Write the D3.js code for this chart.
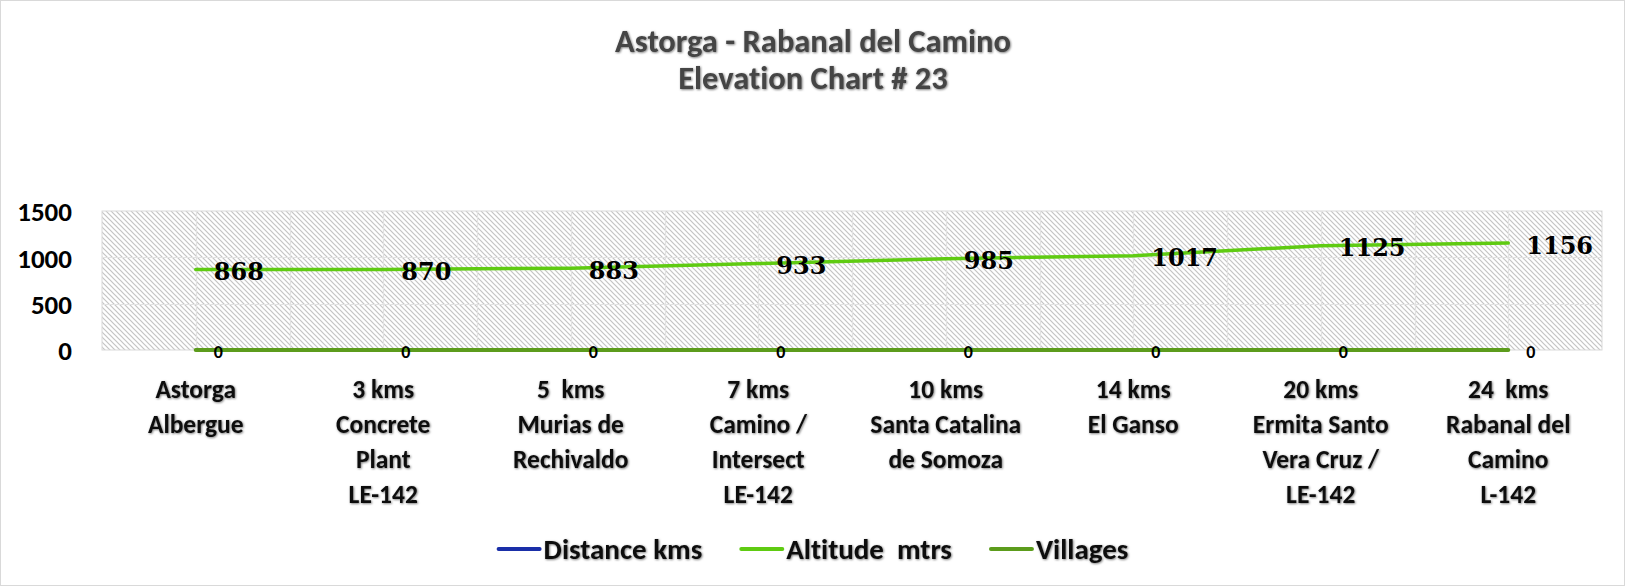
<!DOCTYPE html>
<html>
<head>
<meta charset="utf-8">
<script src="https://cdn.jsdelivr.net/npm/d3@7"></script>
<style>
  body { margin: 0; background: #fff; }
  svg text { white-space: pre; font-variant-ligatures: none; }
</style>
</head>
<body>
<div class="chart"></div>
<script>
const width = 1627;
const height = 587;

// chart values
const stops = ['Astorga Albergue', '3 kms Concrete Plant', '5 kms Murias', '7 kms Camino',
  '10 kms Santa Catalina', '14 kms El Ganso', '20 kms Ermita Santo', '24 kms Rabanal'];
const stopLabels = [
  ['Astorga', 'Albergue'],
  ['3 kms', 'Concrete', 'Plant', 'LE-142'],
  ['5  kms', 'Murias de', 'Rechivaldo'],
  ['7 kms', 'Camino /', 'Intersect', 'LE-142'],
  ['10 kms', 'Santa Catalina', 'de Somoza'],
  ['14 kms', 'El Ganso'],
  ['20 kms', 'Ermita Santo', 'Vera Cruz /', 'LE-142'],
  ['24  kms', 'Rabanal del', 'Camino', 'L-142']
];
const altitude = [868, 870, 883, 933, 985, 1017, 1125, 1156];
const villages = [0, 0, 0, 0, 0, 0, 0, 0];
const distance = [0, 0, 0, 0, 0, 0, 0, 0];
const yTicks = [0, 500, 1000, 1500];
const titleLines = ['Astorga - Rabanal del Camino', 'Elevation Chart # 23'];
const legendItems = [
  {name: 'Distance kms', color: '#1a2fa8'},
  {name: 'Altitude  mtrs', color: '#5fcb12'},
  {name: 'Villages', color: '#5c9c1c'}
];

const sans = 'Carlito, Lato, sans-serif';
const serif = '"DejaVu Serif", serif';

const svg = d3
    .select('div.chart')
    .append('svg')
    .attr('width', width)
    .attr('height', height);

const defs = svg.append('defs');

const hatch = defs.append('pattern')
    .attr('id', 'hatch')
    .attr('patternUnits', 'userSpaceOnUse')
    .attr('width', 5)
    .attr('height', 5);
hatch.append('rect').attr('width', 5).attr('height', 5).attr('fill', '#fff');
hatch.append('path')
    .attr('d', 'M-1,-1L6,6M-1,4L1,6M4,-1L6,1')
    .attr('stroke', '#c4c4c4')
    .attr('stroke-width', 1.2);

const shadow = defs.append('filter')
    .attr('id', 'shadow')
    .attr('x', '-10%').attr('y', '-20%')
    .attr('width', '120%').attr('height', '140%');
shadow.append('feDropShadow')
    .attr('dx', 0.8).attr('dy', 0.8)
    .attr('stdDeviation', 0.9)
    .attr('flood-color', '#000')
    .attr('flood-opacity', 0.55);

// outer frame
svg.append('rect')
    .attr('x', 0.5).attr('y', 0.5)
    .attr('width', width - 3).attr('height', height - 2)
    .attr('fill', '#fff')
    .attr('stroke', '#d9d9d9');

// title
svg.append('g')
    .selectAll('text')
    .data(titleLines)
    .enter()
    .append('text')
    .attr('x', 813)
    .attr('y', function(d, i) {
      return 52 + i * 37;
    })
    .attr('text-anchor', 'middle')
    .attr('font-family', sans)
    .attr('font-weight', 'bold')
    .attr('font-size', '32.5px')
    .attr('fill', '#444')
    .attr('filter', 'url(#shadow)')
    .text(function(d) {
      return d;
    });

const x = d3.scaleBand()
    .domain(stops)
    .range([102, 1602])
    .padding(0);

const y = d3.scaleLinear()
    .domain([0, 1500])
    .range([350, 211]);

const cx = function(i) {
  return x(stops[i]) + x.bandwidth() / 2;
};

// plot area
svg.append('rect')
    .attr('x', 102)
    .attr('y', y(1500))
    .attr('width', 1500)
    .attr('height', y(0) - y(1500))
    .attr('fill', 'url(#hatch)')
    .attr('stroke', '#d9d9d9');

// gridlines
const grid = svg.append('g').attr('stroke', '#e2e2e2').attr('stroke-width', 1.2);
grid.selectAll('line.h')
    .data(yTicks.slice(1, -1))
    .enter()
    .append('line')
    .attr('x1', 102).attr('x2', 1602)
    .attr('y1', function(d) {
      return Math.round(y(d)) + 0.5;
    })
    .attr('y2', function(d) {
      return Math.round(y(d)) + 0.5;
    });

const vLines = [];
stops.forEach(function(s, i) {
  if (i > 0) vLines.push(x(s));
  vLines.push(cx(i));
});
grid.selectAll('line.v')
    .data(vLines)
    .enter()
    .append('line')
    .attr('y1', y(1500)).attr('y2', y(0))
    .attr('x1', function(d) {
      return Math.round(d) + 0.5;
    })
    .attr('x2', function(d) {
      return Math.round(d) + 0.5;
    });

// y axis
const yAxis = svg.append('g')
    .attr('transform', 'translate(102,0)')
    .call(d3.axisLeft(y).tickValues(yTicks).tickFormat(d3.format('d'))
        .tickSize(0).tickPadding(30));
yAxis.select('.domain').remove();
yAxis.selectAll('text')
    .attr('font-family', sans)
    .attr('font-weight', 'bold')
    .attr('font-size', '27px')
    .attr('fill', '#000')
    .attr('dy', '0.36em');

// x axis labels
const xAxis = svg.append('g')
    .attr('transform', 'translate(0,' + y(0) + ')')
    .call(d3.axisBottom(x).tickSize(0).tickPadding(0).tickFormat(''));
xAxis.select('.domain').remove();
xAxis.selectAll('.tick text').remove();
xAxis.selectAll('.tick')
    .append('text')
    .attr('font-family', sans)
    .attr('font-weight', 'bold')
    .attr('font-size', '25.5px')
    .attr('fill', '#111')
    .attr('text-anchor', 'middle')
    .attr('filter', 'url(#shadow)')
    .each(function(d, i) {
      const t = d3.select(this);
      stopLabels[i].forEach(function(line, j) {
        t.append('tspan')
            .attr('x', 0)
            .attr('y', 48 + j * 35)
            .text(line);
      });
    });

// series lines
const line = function(values) {
  return d3.line()
      .x(function(d, i) {
        return cx(i);
      })
      .y(function(d) {
        return y(d);
      })(values);
};

svg.append('path')
    .attr('d', line(distance))
    .attr('fill', 'none')
    .attr('stroke', legendItems[0].color)
    .attr('stroke-width', 3);

svg.append('path')
    .attr('d', line(villages))
    .attr('fill', 'none')
    .attr('stroke', legendItems[2].color)
    .attr('stroke-width', 4)
    .attr('stroke-linecap', 'round');

svg.append('path')
    .attr('d', line(altitude))
    .attr('fill', 'none')
    .attr('stroke', legendItems[1].color)
    .attr('stroke-width', 3.5)
    .attr('stroke-linecap', 'round')
    .attr('stroke-linejoin', 'round');

// data labels
svg.append('g')
    .selectAll('text')
    .data(altitude)
    .enter()
    .append('text')
    .attr('x', function(d, i) {
      return cx(i) + 18;
    })
    .attr('y', function(d) {
      return y(d) + 2;
    })
    .attr('dy', '0.36em')
    .attr('font-family', serif)
    .attr('font-weight', 'bold')
    .attr('font-size', '24px')
    .attr('fill', '#000')
    .text(function(d) {
      return d;
    });

svg.append('g')
    .selectAll('text')
    .data(villages)
    .enter()
    .append('text')
    .attr('x', function(d, i) {
      return cx(i) + 18;
    })
    .attr('y', function(d) {
      return y(d) + 2;
    })
    .attr('dy', '0.36em')
    .attr('font-family', sans)
    .attr('font-weight', 'bold')
    .attr('font-size', '18px')
    .attr('fill', '#000')
    .text(function(d) {
      return d;
    });

// legend
const legend = svg.append('g').attr('transform', 'translate(0,549)');
const items = legend.selectAll('g')
    .data(legendItems)
    .enter()
    .append('g');
items.append('line')
    .attr('x1', 1).attr('x2', 42)
    .attr('stroke', function(d) {
      return d.color;
    })
    .attr('stroke-width', 4)
    .attr('stroke-linecap', 'round');
items.append('text')
    .attr('x', 46)
    .attr('dy', '0.36em')
    .attr('font-family', sans)
    .attr('font-weight', 'bold')
    .attr('font-size', '29px')
    .attr('fill', '#111')
    .attr('filter', 'url(#shadow)')
    .text(function(d) {
      return d.name;
    });

const widths = [];
items.each(function() {
  widths.push(46 + d3.select(this).select('text').node().getComputedTextLength());
});
const gap = 38;
const total = d3.sum(widths) + gap * (widths.length - 1);
let pos = 813 - total / 2;
items.attr('transform', function(d, i) {
  const t = 'translate(' + pos + ',0)';
  pos += widths[i] + gap;
  return t;
});
</script>
</body>
</html>
